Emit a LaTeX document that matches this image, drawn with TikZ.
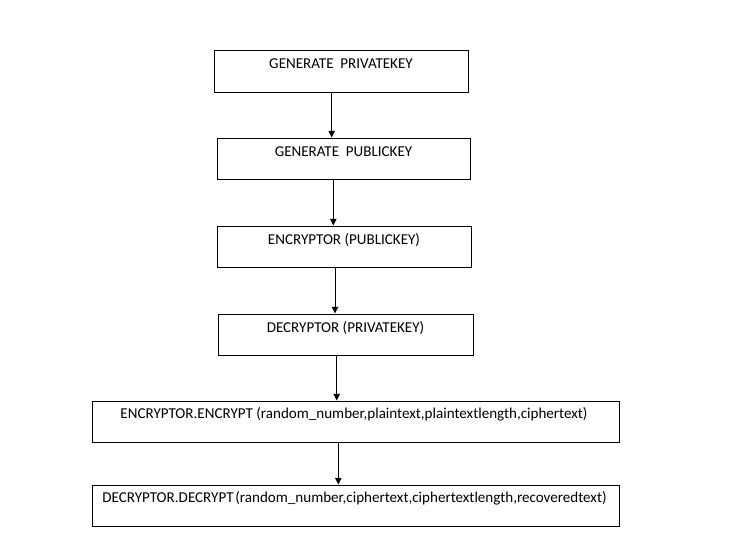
\documentclass[tikz,border=0pt]{standalone}
\usepackage{fontspec}
\setmainfont{Carlito}
\usetikzlibrary{arrows.meta,calc}
\begin{document}
\begin{tikzpicture}[x=0.75pt,y=-0.75pt,
  box/.style={draw=black,line width=0.75pt,rectangle,inner sep=0pt},
  lbl/.style={inner sep=0pt,anchor=base,font=\fontsize{11.3pt}{13pt}\selectfont},
  arr/.style={draw=black,line width=0.75pt,-{Triangle[width=4.8pt,length=5pt]}}]
\useasboundingbox (0,0) rectangle (743,547);
\fill[white] (0,0) rectangle (743,547);
% boxes
\node[box,minimum width=254*0.75pt,minimum height=42*0.75pt] (b1) at (341,71) {};
\node[box,minimum width=253*0.75pt,minimum height=41*0.75pt] (b2) at (343.5,158.5) {};
\node[box,minimum width=254*0.75pt,minimum height=41*0.75pt] (b3) at (344,246.5) {};
\node[box,minimum width=255*0.75pt,minimum height=41*0.75pt] (b4) at (345.5,334.5) {};
\node[box,minimum width=527*0.75pt,minimum height=41*0.75pt] (b5) at (355.5,421.5) {};
\node[box,minimum width=527*0.75pt,minimum height=41*0.75pt] (b6) at (355.5,505.5) {};
% labels
\node[lbl] (t1) at ([yshift=-18.7*0.75pt]b1.north) {GENERATE\hspace{0.45em}PRIVATEKEY};
\node[lbl] (t2) at ([yshift=-18.5*0.75pt]b2.north) {GENERATE\hspace{0.45em}PUBLICKEY};
\node[lbl] (t3) at ([yshift=-18.5*0.75pt]b3.north) {ENCRYPTOR (PUBLICKEY)};
\node[lbl] (t4) at ([yshift=-18.5*0.75pt]b4.north) {DECRYPTOR (PRIVATEKEY)};
\node[lbl] (t5) at ([xshift=-1.5*0.75pt,yshift=-18.3*0.75pt]b5.north) {ENCRYPTOR.ENCRYPT (random\_number,plaintext,plaintextlength,ciphertext)};
\node[lbl] (t6) at ([xshift=-1*0.75pt,yshift=-18.3*0.75pt]b6.north) {DECRYPTOR.DECRYPT\hspace{0.12em}(random\_number,ciphertext,ciphertextlength,recoveredtext)};
% arrows
\draw[arr] (331.7,0 |- b1.south) -- (331.7,0 |- b2.north);
\draw[arr] (333.3,0 |- b2.south) -- (333.3,0 |- b3.north);
\draw[arr] (335,0 |- b3.south) -- (335,0 |- b4.north);
\draw[arr] (336.7,0 |- b4.south) -- (336.7,0 |- b5.north);
\draw[arr] (338.3,0 |- b5.south) -- (338.3,0 |- b6.north);
\end{tikzpicture}
\end{document}
